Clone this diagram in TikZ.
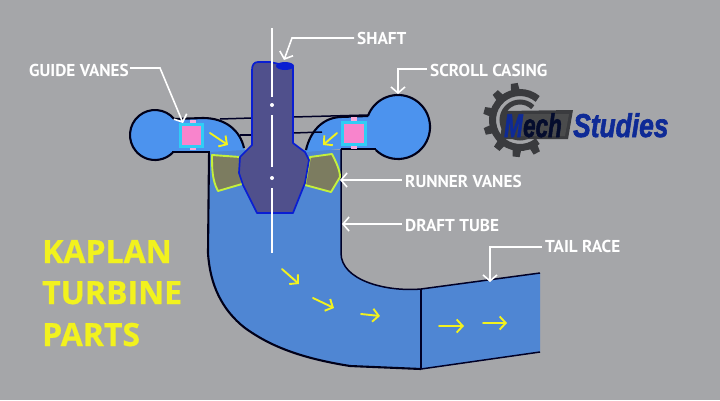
\documentclass[tikz,border=0pt]{standalone}
\usepackage{fontspec}
\setmainfont{Open Sans}
\newfontfamily\titlefont[FakeBold=.7]{Open Sans}
\newfontfamily\lblfont{PT Sans}
\newfontfamily\logofont[FakeBold=2]{Liberation Sans}
\usetikzlibrary{arrows.meta,calc}
\definecolor{bgc}{HTML}{A5A6A9}
\definecolor{tubec}{HTML}{4F86D3}
\definecolor{casec}{HTML}{4C93EE}
\definecolor{shaftc}{HTML}{50508C}
\definecolor{shaftl}{HTML}{0A1ED2}
\definecolor{vanef}{HTML}{7C7C60}
\definecolor{vanel}{HTML}{C4F03C}
\definecolor{yel}{HTML}{F2F21E}
\definecolor{logob}{HTML}{0E2A96}
\definecolor{logod}{HTML}{3A3B3E}
\definecolor{pinkc}{HTML}{F884CC}
\definecolor{cyanc}{HTML}{30CDF5}
\tikzset{
 x=1pt,y=-1pt,
 outline/.style={draw=black!90!blue,line width=2.1pt},
 thinline/.style={draw=black!85!blue,line width=1.5pt},
 vane/.style={fill=vanef,draw=vanel,line width=1.9pt,line join=round},
 flow/.style={draw=yel,line width=1.9pt,line cap=round,-{Straight Barb[length=6pt,width=13pt,line width=1.9pt]}},
 leader/.style={draw=white,line width=1.6pt,-{Straight Barb[length=6pt,width=14pt,line width=1.6pt]}},
 lbl/.style={text=white,font=\lblfont\bfseries\fontsize{17.2}{18}\selectfont,inner sep=0pt,anchor=west},
 title/.style={text=yel,font=\titlefont\bfseries\fontsize{32}{32}\selectfont,inner sep=0pt,anchor=base west},
 guidebox/.style={fill=pinkc,draw=cyanc,line width=3pt},
 tab/.style={fill=pinkc!70!white},
 logotext/.style={inner sep=0pt,font=\logofont\bfseries\itshape\fontsize{33}{33}\selectfont,anchor=base west},
}
\begin{document}
\begin{tikzpicture}
\useasboundingbox[fill=bgc] (0,0) rectangle (720,400);
% tube + tail race fill
\path[fill=tubec] (209,150) -- (208,253) .. controls (210,285) and (222,310) .. (245,328)
  .. controls (270,346) and (300,358) .. (350,366) -- (421,369) -- (540,352) -- (540,273) -- (421,289)
  .. controls (385,292) and (341,280) .. (341,253) -- (341,150) -- cycle;
% casing fill
\fill[casec] (155,135) circle (25);
\fill[casec] (398,127) circle (32);
\fill[casec] (170,118) -- (203,118) .. controls (225,118) and (240,130) .. (245,150) -- (209,152) -- (172,152) -- cycle;
\fill[casec] (378,116) -- (340,117) .. controls (322,118) and (310,132) .. (306,152) -- (340,149) -- (378,149) -- cycle;
% casing lines
\draw[thinline] (220,119) -- (252,118);
\draw[thinline] (240,135) -- (252,135);
\draw[thinline] (293,117) -- (368,115);
\draw[thinline] (293,133) -- (322,132);
\draw[outline] (155,135) ++(-40:25) arc[start angle=-40,end angle=-315,radius=25];
\draw[outline] (174,119) -- (203,118) .. controls (225,118) and (240,130) .. (244,148);
\draw[outline] (172,152) -- (209,152) -- (209,160);
\draw[outline] (398,127) ++(200:32) arc[start angle=200,end angle=494,radius=32];
\draw[outline] (368,116) -- (340,117) .. controls (322,118) and (310,132) .. (306,150);
\draw[outline] (341,149) -- (376,149);
% tube outlines
\draw[outline] (209,155) -- (208,253) .. controls (210,285) and (222,310) .. (245,328)
  .. controls (270,346) and (300,358) .. (350,366) -- (421,369);
\draw[thinline] (421,369) -- (540,352);
\draw[thinline] (540,273) -- (421,289) .. controls (385,292) and (341,280) .. (341,253) -- (341,149);
\draw[thinline] (421,289) -- (421,369);
% runner vanes
\draw[vane] (212,155) -- (240,157) -- (242,184) -- (218,191) .. controls (212,180) and (212,168) .. cycle;
\draw[vane] (310,157) -- (332,154) .. controls (336,162) and (340,170) .. (340,177) -- (331,192) -- (305,185) -- cycle;
% shaft
\draw[fill=shaftc,draw=shaftl,line width=1.7pt,line join=round] (252,70) .. controls (252,65) and (254,62) .. (258,62) -- (270,62) -- (293,67) -- (293,143) -- (305,152) -- (309,160) -- (305,183) -- (293,213) -- (257,213) -- (243,185) -- (239,173) -- (240,157) -- (252,145) -- cycle;
\fill[shaftl] (285,66) ellipse[x radius=9,y radius=4];
% centre line
\draw[white,line width=1.4pt] (272,28) -- (272,97) (272,115) -- (272,167) (272,188) -- (272,253);
\fill[white] (272,105) circle (2) (272,178) circle (2);
% guide vanes
\fill[tab] (190,120) rectangle (196,150);
\fill[tab] (351,117) rectangle (357,149);
\draw[guidebox] (180.5,124.5) rectangle (202.5,146);
\draw[guidebox] (342.5,122.5) rectangle (365,144);
% flow arrows
\coordinate (fa1) at (210,133); \coordinate (fb1) at (228,145);
\coordinate (fa2) at (337,133); \coordinate (fb2) at (323,145);
\coordinate (fa3) at (282,269); \coordinate (fb3) at (299,284);
\coordinate (fa4) at (313,298); \coordinate (fb4) at (334,308);
\coordinate (fa5) at (361,314); \coordinate (fb5) at (380,316);
\coordinate (fa6) at (439,326); \coordinate (fb6) at (464,326);
\coordinate (fa7) at (483,323); \coordinate (fb7) at (507,323);
\foreach \i in {1,...,7} \draw[flow] (fa\i) -- (fb\i);
% labels
\node[lbl] (shaft) at (357,38) {SHAFT};
\node[lbl] (guide) at (29,70) {GUIDE VANES};
\node[lbl] (scroll) at (430,70) {SCROLL CASING};
\node[lbl] (runner) at (405,181) {RUNNER VANES};
\node[lbl] (draft) at (405,225) {DRAFT TUBE};
\node[lbl] (tail) at (545,246) {TAIL RACE};
\coordinate (tshaft) at (284,60);
\coordinate (tguide) at (183,123);
\coordinate (tscroll) at (398,94);
\coordinate (trunner) at (340,180);
\coordinate (tdraft) at (342,224);
\coordinate (ttail) at (490,282);
\draw[leader] (shaft.west) ++(-3,0) -- ++(-62,0) -- (tshaft);
\draw[leader] (guide.east) ++(1,-2) -- ++(30,0) -- (tguide);
\draw[leader] (scroll.west) ++(-3,-1) -- ++(-29,0) -- (tscroll);
\draw[leader] (runner.west) ++(-3,-1) -- (trunner);
\draw[leader] (draft.west) ++(-3,-1) -- (tdraft);
\draw[leader] (tail.west) ++(-3,1) -- ++(-52,0) -- (ttail);
% title
\node[title] (t1) at (42,263) {KAPLAN};
\node[title] (t2) at (42,304) {TURBINE};
\node[title] (t3) at (42,346) {PARTS};
% logo
\begin{scope}[shift={(520,120)}]
 \foreach \a in {-63,-96,-129,-162,-195,-228,-261}
  \fill[logod,rotate=\a] (28,-4.5) -- (37,-3.5) -- (37,3.5) -- (28,4.5) -- cycle;
 \draw[logod,line width=7pt] (50:27.5) arc[start angle=50,end angle=310,radius=27.5];
 \draw[logod,line width=5pt] (45:18) arc[start angle=45,end angle=315,radius=18];
\end{scope}
\fill[logod] (504,111) -- (573,110) -- (568,139) -- (500,139) -- cycle;
\fill[black!55!bgc] (520,114) -- (569,114) -- (565,136) -- (517,136) -- cycle;
\node[logotext,text=logob,xscale=.68] (mecha) at (504,137) {M};
\node[logotext,text=black!70!logob,xscale=.68] (mechb) at (523,137) {ech};
\node[logotext,text=logob,xscale=.8] (stud) at (573,137) {Studies};
\end{tikzpicture}
\end{document}
